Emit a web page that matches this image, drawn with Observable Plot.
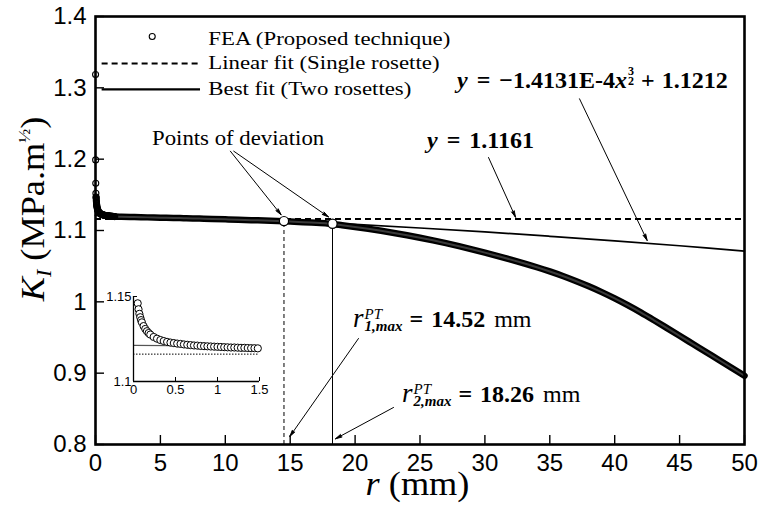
<!DOCTYPE html>
<html><head><meta charset="utf-8">
<script src="https://cdn.jsdelivr.net/npm/d3@7"></script>
<script src="https://cdn.jsdelivr.net/npm/@observablehq/plot@0.6"></script>
<style>
body{margin:0;background:#fff;}
#wrap{position:relative;width:760px;height:506px;}
#wrap svg{position:absolute;}
</style></head><body><div id="wrap"></div>
<script>
// ---------- data ----------
// FEA points very close to the crack tip (r in mm, K_I in MPa.m^1/2)
const rSpike = [0.005, 0.01, 0.02, 0.03, 0.04];
const kSpike = [1.3187, 1.1990, 1.1663, 1.1523, 1.1470];
// FEA points in the inset range 0.05 - 1.5 mm
const rNear = [0.05,0.06,0.07,0.08,0.09,0.10,0.12,0.14,0.16,0.18,0.20,0.24,0.28,0.32,0.36,0.40,0.44,0.48,0.52,0.56,0.60,0.64,0.68,0.72,0.76,0.80,0.84,0.88,0.92,0.96,1.00,1.04,1.08,1.12,1.16,1.20,1.24,1.28,1.32,1.36,1.40,1.44,1.48];
const kNear = [1.1460,1.1425,1.1398,1.1378,1.1361,1.1348,1.1326,1.1309,1.1296,1.1285,1.1276,1.1262,1.1252,1.1244,1.1238,1.1233,1.1229,1.1226,1.1223,1.1221,1.1218,1.1216,1.1214,1.1212,1.1211,1.1209,1.1208,1.1207,1.1206,1.1205,1.1204,1.1203,1.1202,1.1201,1.1200,1.1200,1.1199,1.1198,1.1198,1.1197,1.1196,1.1196,1.1195];
// FEA points 2 - 50 mm
const rFar = [2,3,4,5,6,7,8,9,10,11,12,13,14,15,16,17,18,19,20,21,22,23,24,25,26,27,28,29,30,31,32,33,34,35,36,37,38,39,40,41,42,43,44,45,46,47,48,49,50];
const kFar = [1.1192,1.1188,1.1184,1.1180,1.1176,1.1171,1.1167,1.1162,1.1157,1.1151,1.1145,1.1139,1.1133,1.1126,1.1117,1.1107,1.1096,1.1074,1.1050,1.1024,1.0996,1.0966,1.0934,1.0899,1.0862,1.0822,1.0780,1.0736,1.0690,1.0642,1.0592,1.0540,1.0485,1.0426,1.0362,1.0292,1.0217,1.0136,1.0048,0.9953,0.9852,0.9745,0.9635,0.9524,0.9412,0.9300,0.9188,0.9076,0.8964];
// points of deviation
const rDev = [14.52, 18.26];
const kDev = [1.1132, 1.1095];
// linear fit (single rosette)
const kLinear = 1.1161;
// best fit (two rosettes)
const rBest = [0,5,10,15,20,25,30,35,40,45,50];
const kBest = [1.1212,1.1196,1.1167,1.1130,1.1086,1.1035,1.0980,1.0919,1.0855,1.0786,1.0712];
// axes
const xTicks = [0,5,10,15,20,25,30,35,40,45,50];
const yTicks = [0.8,0.9,1.0,1.1,1.2,1.3,1.4];
const insetXTicks = [0,0.5,1,1.5];
const insetYTicks = [1.1,1.15];
const legendLabels = ["FEA (Proposed technique)","Linear fit (Single rosette)","Best fit (Two rosettes)"];

// ---------- tables ----------
const zip = (xs, ys) => xs.map((x, i) => ({r: x, k: ys[i]}));
const spike = zip(rSpike, kSpike);
const near = zip(rNear, kNear);
const band = near.concat(zip(rFar, kFar));
const dev = zip(rDev, kDev);
const best = zip(rBest, kBest);

const SERIF = "'Liberation Serif','Times New Roman',serif";
const SANS = "'Liberation Sans',Arial,sans-serif";
const fmt = d => String(d);

// annotation arrows (data coordinates)
const arrows = [
  {x1: 10.39, y1: 1.2112, x2: 14.30, y2: 1.1220},
  {x1: 10.65, y1: 1.2112, x2: 17.95, y2: 1.1190},
  {x1: 30.28, y1: 1.2023, x2: 32.36, y2: 1.1186},
  {x1: 37.29, y1: 1.2846, x2: 42.50, y2: 1.0860},
  {x1: 20.26, y1: 0.9486, x2: 14.97, y2: 0.8112},
  {x1: 22.96, y1: 0.8519, x2: 18.49, y2: 0.8080}
];

const main = Plot.plot({
  width: 760, height: 506,
  marginLeft: 95, marginRight: 16, marginTop: 16, marginBottom: 62,
  x: {domain: [0, 50]},
  y: {domain: [0.8, 1.4]},
  style: {background: "white", fontFamily: SANS, overflow: "visible"},
  marks: [
    // fits
    Plot.ruleY([kLinear], {x1: 0, x2: 50, stroke: "#000", strokeWidth: 2, strokeDasharray: "6,4"}),
    Plot.line(best, {x: "r", y: "k", stroke: "#000", strokeWidth: 1.7, curve: "catmull-rom"}),
    // FEA band
    Plot.line(band, {x: "r", y: "k", stroke: "#000", strokeWidth: 6.5, curve: "catmull-rom", strokeLinecap: "round"}),
    Plot.line(band, {x: "r", y: "k", stroke: "#3a3a3a", strokeWidth: 2, curve: "catmull-rom"}),
    Plot.dot(spike.concat(near), {x: "r", y: "k", r: 3, stroke: "#000", fill: "none", strokeWidth: 1.1}),
    // deviation verticals
    Plot.ruleX([dev[0]], {x: "r", y1: 0.8, y2: "k", stroke: "#000", strokeWidth: 1, strokeDasharray: "4,3"}),
    Plot.ruleX([dev[1]], {x: "r", y1: 0.8, y2: "k", stroke: "#000", strokeWidth: 1}),
    Plot.dot(dev, {x: "r", y: "k", r: 4.6, fill: "white", stroke: "#000", strokeWidth: 1.2}),
    // arrows
    Plot.arrow(arrows, {x1: "x1", y1: "y1", x2: "x2", y2: "y2", stroke: "#000", strokeWidth: 1, headLength: 10, headAngle: 26}),
    // legend
    Plot.dot([legendLabels[0]], {x: 4.37, y: 1.3720, r: 3, stroke: "#000", fill: "none", strokeWidth: 1.1}),
    Plot.ruleY([legendLabels[1]], {x1: 0.51, x2: 8.09, y: 1.3341, stroke: "#000", strokeWidth: 2, strokeDasharray: "6,4"}),
    Plot.ruleY([legendLabels[2]], {x1: 0.51, x2: 8.09, y: 1.2977, stroke: "#000", strokeWidth: 2.2}),
    // inward ticks
    Plot.ruleX(xTicks, {x: d => d, y1: 0.8, y2: 0.8, insetBottom: 9, stroke: "#000", strokeWidth: 1.4}),
    Plot.ruleY(yTicks, {y: d => d, x1: 0, x2: 0, insetRight: -9, stroke: "#000", strokeWidth: 1.4}),
    Plot.axisX({ticks: xTicks, tickSize: 0, tickPadding: 9, fontSize: 24, label: null, fill: "#000", tickFormat: fmt}),
    Plot.axisY({ticks: yTicks, tickSize: 0, tickPadding: 9, fontSize: 24, label: null, fill: "#000", tickFormat: fmt}),
    Plot.frame({stroke: "#000", strokeWidth: 2.6})
  ]
});
const wrap = document.getElementById("wrap");
wrap.appendChild(main);
main.style.left = "0px"; main.style.top = "0px";
d3.select(main).selectAll("g[aria-label=arrow] path").attr("fill", "#000");

// ---------- text annotations ----------
const X = v => main.scale("x").apply(v);
const Y = v => main.scale("y").apply(v);
const g = d3.select(main).append("g").attr("font-family", SERIF).attr("fill", "#000").attr("text-anchor", "start");

function stext(x, y, size, sx, parts, opts = {}) {
  const t = g.append("text")
    .attr("transform", `translate(${x},${y})${opts.rotate ? ` rotate(${opts.rotate})` : ""} scale(${sx},1)`)
    .attr("font-size", size).attr("text-anchor", opts.anchor || "start").style("white-space", "pre");
  if (opts.dy) t.attr("dy", opts.dy);
  for (const p of parts) {
    const s = t.append("tspan").text(p.t);
    if (p.italic) s.attr("font-style", "italic");
    if (p.size) s.attr("font-size", p.size);
    if (p.dy) s.attr("dy", p.dy);
  }
  return t;
}
function row(x, y, items, base = 24) {
  let cx = x;
  for (const it of items) {
    cx += it.gap || 0;
    const pieces = it.stack || [it];
    let maxw = 0;
    for (const p of pieces) {
      const t = g.append("text").attr("x", cx).attr("y", y + (p.dy || 0)).attr("text-anchor", "start")
        .attr("font-size", p.size || base).style("white-space", "pre").text(p.t);
      if (p.italic) t.attr("font-style", "italic");
      if (p.bold !== false) t.attr("font-weight", "bold");
      maxw = Math.max(maxw, t.node().getComputedTextLength());
    }
    cx += maxw;
  }
}

// legend labels
[1.3692, 1.3348, 1.2991].forEach((yy, i) =>
  stext(X(8.73), Y(yy), 19.5, 1.17, [{t: legendLabels[i]}], {dy: "0.34em"}));
// points of deviation
stext(X(4.39), Y(1.2192), 20, 1.14, [{t: "Points of deviation"}]);
// axis titles
stext(X(25) - 2, Y(0.8) + 51, 33, 1.1, [{t: "r", italic: true}, {t: " (mm)"}], {anchor: "middle"});
stext(X(0) - 51.5, Y(1.1) - 21, 33, 1.1,
  [{t: "K", italic: true}, {t: "I", italic: true, size: 20, dy: 7}, {t: " (MPa.m", dy: -7},
   {t: "½", size: 17, dy: -14}, {t: ")", dy: 14}], {anchor: "middle", rotate: -90});

// equations
row(X(27.89), Y(1.2991), [
  {t: "y", italic: true}, {t: "=", gap: 9}, {t: "−1.4131E-4", gap: 9}, {t: "x", italic: true},
  {stack: [{t: "3", size: 12, dy: -13}, {t: "2", size: 12, dy: -3}], gap: 1},
  {t: "+", gap: 7}, {t: "1.1212", gap: 7}
]);
row(X(25.58), Y(1.2149), [{t: "y", italic: true}, {t: "=", gap: 9}, {t: "1.1161", gap: 9}]);
row(X(19.88), Y(0.9640), [
  {t: "r", italic: true, bold: false, size: 27},
  {stack: [{t: "PT", italic: true, bold: false, size: 15, dy: -8}, {t: "1,max", italic: true, size: 15, dy: 4}], gap: 1},
  {t: "=", gap: 7}, {t: "14.52", gap: 8}, {t: "mm", gap: 9, bold: false}
]);
row(X(23.65), Y(0.8589), [
  {t: "r", italic: true, bold: false, size: 27},
  {stack: [{t: "PT", italic: true, bold: false, size: 15, dy: -8}, {t: "2,max", italic: true, size: 15, dy: 4}], gap: 1},
  {t: "=", gap: 7}, {t: "18.26", gap: 8}, {t: "mm", gap: 9, bold: false}
]);

// ---------- inset ----------
const inset = Plot.plot({
  width: 178, height: 117,
  marginLeft: 40, marginRight: 12, marginTop: 10, marginBottom: 22,
  x: {domain: [0, 1.5]},
  y: {domain: [1.1, 1.15]},
  style: {background: "transparent", fontFamily: SANS, overflow: "visible"},
  marks: [
    Plot.ruleY([kLinear], {x1: 0, x2: 1.5, stroke: "#000", strokeWidth: 1, strokeDasharray: "1.5,1.5"}),
    Plot.line(best, {x: "r", y: "k", stroke: "#555", strokeWidth: 1.2, clip: true}),
    Plot.dot(near, {x: "r", y: "k", r: 3.6, fill: "white", stroke: "#000", strokeWidth: 1}),
    Plot.ruleX([0], {stroke: "#000", strokeWidth: 1.3}),
    Plot.ruleY([1.1], {stroke: "#000", strokeWidth: 1.3}),
    Plot.ruleX(insetXTicks.slice(1), {x: d => d, y1: 1.1, y2: 1.1, insetBottom: 4, stroke: "#000"}),
    Plot.ruleY(insetYTicks, {y: d => d, x1: 0, x2: 0, insetRight: -4, stroke: "#000"}),
    Plot.axisX({ticks: insetXTicks, tickSize: 0, tickPadding: 3, fontSize: 13, label: null, fill: "#000", tickFormat: fmt}),
    Plot.axisY({ticks: insetYTicks, tickSize: 0, tickPadding: 2, fontSize: 13, label: null, fill: "#000", tickFormat: fmt})
  ]
});
wrap.appendChild(inset);
inset.style.left = (X(0) + 38.3 - 40) + "px";
inset.style.top = (Y(1.4) + 279.7 - 10) + "px";
</script></body></html>
